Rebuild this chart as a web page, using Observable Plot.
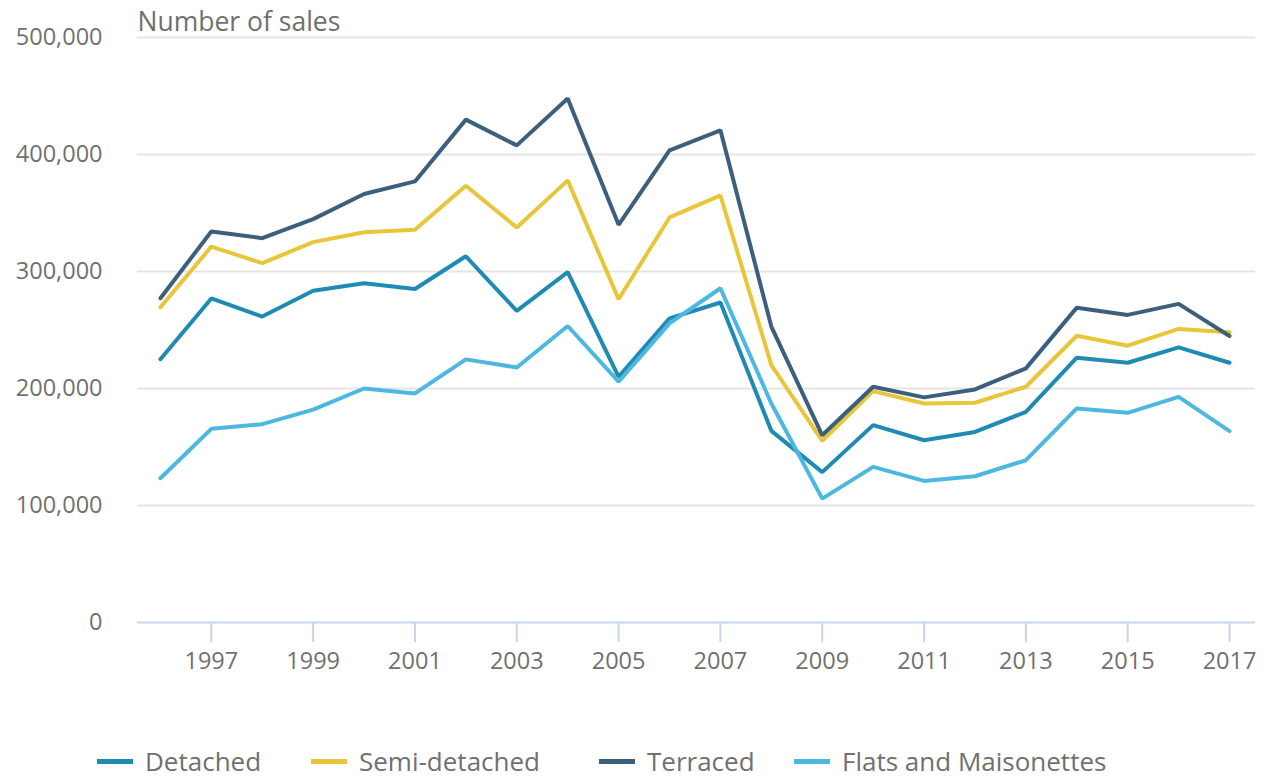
<!DOCTYPE html>
<html>
<head>
<meta charset="utf-8">
<script src="https://cdn.jsdelivr.net/npm/d3@7"></script>
<script src="https://cdn.jsdelivr.net/npm/@observablehq/plot@0.6"></script>
<style>
  html, body { margin: 0; padding: 0; background: #fff; }
  body { width: 1265px; height: 780px; overflow: hidden; font-family: "Open Sans", sans-serif; position: relative; }
  #chart { position: absolute; left: 0; top: 0; }
  #legend { position: absolute; left: 0; top: 748px; width: 1265px; height: 27px; font-size: 26px; line-height: 27px; color: #707070; white-space: nowrap; }
  .item { position: absolute; top: 0; display: flex; align-items: center; height: 27px; }
  .sw { width: 36px; height: 5px; margin-right: 12px; }
</style>
</head>
<body>
<div id="chart"></div>
<div id="legend"></div>
<script>
const years = [1996,1997,1998,1999,2000,2001,2002,2003,2004,2005,2006,2007,2008,2009,2010,2011,2012,2013,2014,2015,2016,2017];
const seriesNames = ["Detached", "Semi-detached", "Terraced", "Flats and Maisonettes"];
const seriesColors = ["#1f8bb5", "#e9c53a", "#3d5f7e", "#4cb8e2"];
const detached = [225000,277000,261500,283500,290000,285000,313000,266300,299400,210000,260000,273500,163800,128500,168700,155800,162900,180000,226300,222000,235200,222000];
const semiDetached = [269400,321300,307100,325100,333600,335600,373300,337600,377900,276300,346200,365000,220000,155200,197800,187200,187800,201500,245100,236600,250900,248000];
const terraced = [277200,334200,328500,344800,366200,377000,429800,407800,447800,339900,403500,420700,252900,160000,201500,192400,199200,217200,269100,262900,272300,244900];
const flats = [123300,165500,169500,182000,200000,195800,224900,218000,253400,205800,255700,285700,187200,105900,133000,121000,125000,138700,183000,179200,192900,163500];
const yTicks = [0,100000,200000,300000,400000,500000];
const xTicks = [1997,1999,2001,2003,2005,2007,2009,2011,2013,2015,2017];

const valuesBySeries = [detached, semiDetached, terraced, flats];
const data = [];
seriesNames.forEach((name, i) => {
  years.forEach((yr, j) => data.push({series: name, year: yr, value: valuesBySeries[i][j]}));
});

const chart = Plot.plot({
  width: 1265,
  height: 700,
  marginLeft: 137,
  marginRight: 10,
  marginTop: 37,
  marginBottom: 78,
  style: { fontFamily: "Open Sans, sans-serif", fontSize: "23.5px", color: "#707070", background: "white", overflow: "visible" },
  x: { domain: [1995.55, 2017.51], ticks: xTicks, tickFormat: d => String(d), label: null },
  y: { domain: [0, 500000], ticks: yTicks, tickFormat: d3.format(","), label: null },
  color: { domain: seriesNames, range: seriesColors },
  marks: [
    Plot.gridY(yTicks.filter(d => d > 0), { stroke: "#e6e6e6", strokeOpacity: 1, strokeWidth: 2 }),
    Plot.axisY({ ticks: yTicks, tickFormat: d3.format(","), tickSize: 0, tickPadding: 35, fontSize: 23.5, fill: "#707070", label: null }),
    Plot.axisX({ ticks: xTicks, tickFormat: d => String(d), tickSize: 20, tickPadding: 10, stroke: "#c9d5ec", strokeWidth: 2, fontSize: 23.5, fill: "#707070", label: null }),
    Plot.ruleY([0], { stroke: "#c9d5ec", strokeWidth: 2 }),
    Plot.line(data, { x: "year", y: "value", z: "series", stroke: "series", strokeWidth: 4, strokeLinejoin: "miter" }),
    Plot.text(["Number of sales"], { frameAnchor: "top-left", dy: -7, lineAnchor: "bottom", textAnchor: "start", fontSize: 26.5, fill: "#707070" })
  ]
});
document.getElementById("chart").appendChild(chart);

const legend = document.getElementById("legend");
const legendLeft = [97, 311, 599, 794];
seriesNames.forEach((name, i) => {
  const it = document.createElement("div");
  it.className = "item";
  it.style.left = legendLeft[i] + "px";
  const sw = document.createElement("span");
  sw.className = "sw";
  sw.style.background = seriesColors[i];
  const t = document.createElement("span");
  t.textContent = name;
  it.appendChild(sw); it.appendChild(t);
  legend.appendChild(it);
});
</script>
</body>
</html>
